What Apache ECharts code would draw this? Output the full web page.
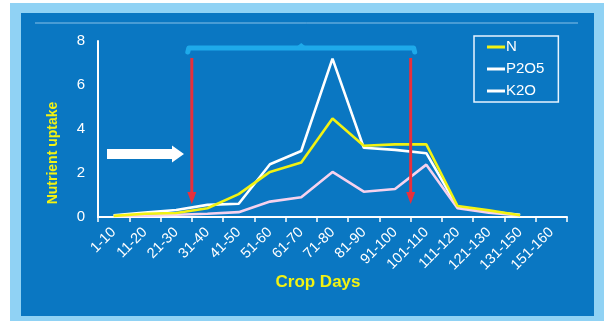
<!DOCTYPE html>
<html>
<head>
<meta charset="utf-8">
<script src="https://cdn.jsdelivr.net/npm/echarts@6/dist/echarts.min.js"></script>
<style>
html,body{margin:0;padding:0;background:#ffffff;}
#c{width:604px;height:321px;}
</style>
</head>
<body>
<div id="c"></div>
<script>
const categories = ['1-10','11-20','21-30','31-40','41-50','51-60','61-70','71-80','81-90','91-100','101-110','111-120','121-130','131-150','151-160'];
const nValues    = [0.05, 0.15, 0.18, 0.40, 1.04, 2.05, 2.48, 4.48, 3.24, 3.30, 3.30, 0.50, 0.30, 0.08, null];
const p2o5Values = [0.05, 0.06, 0.10, 0.15, 0.22, 0.70, 0.90, 2.05, 1.15, 1.27, 2.38, 0.40, 0.20, 0.07, null];
const k2oValues  = [0.08, 0.20, 0.32, 0.55, 0.60, 2.40, 3.00, 7.20, 3.15, 3.05, 2.90, 0.45, 0.25, 0.10, null];
const yTicks = [0, 2, 4, 6, 8];
const seriesNames = ['N', 'P2O5', 'K2O'];

const FONT = '"Liberation Sans", Arial, sans-serif';
const chart = echarts.init(document.getElementById('c'), null, {renderer: 'canvas'});

const option = {
  animation: false,
  backgroundColor: 'transparent',
  grid: {left: 98, right: 37, top: 41, bottom: 104, containLabel: false},
  legend: {
    data: [
      {name: seriesNames[0], itemStyle: {color: '#f2f212'}},
      {name: seriesNames[1], itemStyle: {color: '#ffffff'}},
      {name: seriesNames[2], itemStyle: {color: '#ffffff'}}
    ],
    orient: 'vertical',
    left: 474, top: 36,
    icon: 'rect',
    itemWidth: 18, itemHeight: 3,
    itemGap: 6,
    padding: [3, 14, 3, 13],
    borderColor: '#e8f4ff', borderWidth: 1.5,
    textStyle: {color: '#ffffff', fontSize: 15, fontFamily: FONT, lineHeight: 16, padding: [0,0,0,-4]}
  },
  xAxis: {
    type: 'category',
    data: categories,
    boundaryGap: true,
    axisLine: {lineStyle: {color: '#ffffff', width: 2}},
    axisTick: {show: true, length: 5, lineStyle: {color: '#ffffff', width: 1.5}},
    axisLabel: {color: '#ffffff', fontSize: 14.5, fontFamily: FONT, rotate: 45, margin: 13, interval: 0}
  },
  yAxis: {
    type: 'value',
    min: yTicks[0], max: yTicks[yTicks.length - 1], interval: 2,
    splitLine: {show: false},
    axisLine: {show: true, lineStyle: {color: '#ffffff', width: 2}},
    axisTick: {show: false},
    axisLabel: {color: '#ffffff', fontSize: 15, fontFamily: FONT, margin: 13}
  },
  series: [
    {name: seriesNames[2], type: 'line', data: k2oValues, symbol: 'none', z: 2,
     lineStyle: {color: '#ffffff', width: 2.6}, itemStyle: {color: '#ffffff'}},
    {name: seriesNames[1], type: 'line', data: p2o5Values, symbol: 'none', z: 3,
     lineStyle: {color: '#f6d2ee', width: 2.6}, itemStyle: {color: '#f6d2ee'}},
    {name: seriesNames[0], type: 'line', data: nValues, symbol: 'none', z: 4,
     lineStyle: {color: '#f2f212', width: 2.6}, itemStyle: {color: '#f2f212'}}
  ]
};
chart.setOption(option);

const xA = chart.convertToPixel({xAxisIndex: 0}, categories[2]);
const xB = chart.convertToPixel({xAxisIndex: 0}, categories[3]);
const xC = chart.convertToPixel({xAxisIndex: 0}, categories[9]);
const xD = chart.convertToPixel({xAxisIndex: 0}, categories[10]);
const arrow1 = (xA + xB) / 2;
const arrow2 = (xC + xD) / 2;
const red = '#e8303c';

function redArrow(x) {
  return [
    {type: 'line', z: 10, shape: {x1: x, y1: 58, x2: x, y2: 194}, style: {stroke: red, lineWidth: 3}},
    {type: 'polygon', z: 10, shape: {points: [[x - 4.5, 192], [x + 4.5, 192], [x, 204]]}, style: {fill: red}}
  ];
}

chart.setOption({
  graphic: [
    {type: 'rect', z: -20, silent: true, shape: {x: 10, y: 3, width: 594, height: 318}, style: {fill: '#90d2f4'}},
    {type: 'rect', z: -19, silent: true, shape: {x: 21, y: 13, width: 573, height: 303}, style: {fill: '#0a77c2'}},
    {type: 'line', z: -18, silent: true, shape: {x1: 35, y1: 23, x2: 578, y2: 23}, style: {stroke: 'rgba(190,225,250,0.7)', lineWidth: 1}},
    {type: 'polyline', z: 9, shape: {points: [[arrow1 - 4, 52], [arrow1 - 3, 48], [arrow2 + 3, 48], [arrow2 + 4, 52]]},
     style: {stroke: '#1eaaea', lineWidth: 5, fill: null, lineJoin: 'round', lineCap: 'round'}},
    {type: 'polygon', z: 9, shape: {points: [[(arrow1 + arrow2) / 2 - 5, 47], [(arrow1 + arrow2) / 2 + 5, 47], [(arrow1 + arrow2) / 2, 43]]},
     style: {fill: '#1eaaea'}},
    ...redArrow(arrow1),
    ...redArrow(arrow2),
    {type: 'polygon', z: 9, shape: {points: [[107, 149], [172, 149], [172, 145.5], [184, 154], [172, 162.5], [172, 159], [107, 159]]},
     style: {fill: '#ffffff'}},
    {type: 'text', z: 10, x: 53, y: 153, rotation: Math.PI / 2,
     style: {text: 'Nutrient uptake', fill: '#f2f212', font: 'bold 14px ' + FONT, align: 'center', verticalAlign: 'middle'}},
    {type: 'text', z: 10, x: 318, y: 282,
     style: {text: 'Crop Days', fill: '#f2f212', font: 'bold 17px ' + FONT, align: 'center', verticalAlign: 'middle'}}
  ]
});
</script>
</body>
</html>
